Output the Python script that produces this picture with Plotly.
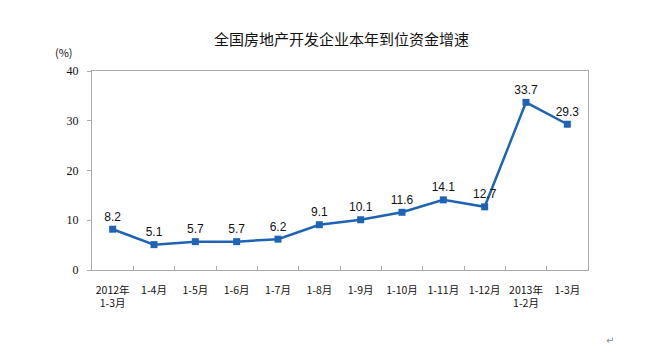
import plotly.graph_objects as go

categories = ["2012年<br>1-3月", "1-4月", "1-5月", "1-6月", "1-7月", "1-8月", "1-9月",
              "1-10月", "1-11月", "1-12月", "2013年<br>1-2月", "1-3月"]
cat_ids = ["c%d" % i for i in range(len(categories))]
values = [8.2, 5.1, 5.7, 5.7, 6.2, 9.1, 10.1, 11.6, 14.1, 12.7, 33.7, 29.3]
y_ticks = [0, 10, 20, 30, 40]

color = "#1F64B4"

fig = go.Figure()
fig.add_trace(go.Scatter(
    x=cat_ids, y=values, mode="lines+markers+text",
    line=dict(color=color, width=2.5),
    marker=dict(symbol="square", size=7, color=color),
    text=["%.1f" % v for v in values],
    textposition="top center",
    textfont=dict(family="Arial, 'Liberation Sans', sans-serif", size=12, color="#111111"),
    cliponaxis=False,
))

fig.update_layout(
    width=663, height=353,
    margin=dict(l=92, r=75, t=71, b=83),
    paper_bgcolor="white", plot_bgcolor="white",
    showlegend=False,
    title=dict(text="全国房地产开发企业本年到位资金增速", x=0.515, xanchor="center",
               y=1 - 40/353, yanchor="middle",
               font=dict(family="'Noto Sans CJK SC', sans-serif", size=15, color="#111111")),
    xaxis=dict(
        type="category", tickmode="array", tickvals=cat_ids, ticktext=categories,
        tickson="boundaries", ticks="inside", ticklen=4, tickcolor="#aaaaaa",
        tickangle=0, ticklabelstandoff=10,
        showline=True, linecolor="#aaaaaa", linewidth=1, mirror=True,
        showgrid=False, range=[-0.5, 11.5],
        tickfont=dict(family="'Noto Sans CJK SC', sans-serif", size=10.5, color="#111111"),
    ),
    yaxis=dict(
        range=[0, 40], tickvals=y_ticks, ticks="outside", ticklen=4, tickcolor="#aaaaaa",
        ticklabelstandoff=6,
        showline=True, linecolor="#aaaaaa", linewidth=1, mirror=True,
        showgrid=False, zeroline=False,
        tickfont=dict(family="'Times New Roman', 'Liberation Serif', serif", size=12, color="#111111"),
    ),
    annotations=[
        dict(text="(%)", xref="paper", yref="paper", x=-0.035, y=1 + 19/199,
             xanchor="right", yanchor="middle", showarrow=False,
             font=dict(family="'Noto Sans CJK SC', sans-serif", size=11, color="#111111")),
        dict(text="↵", xref="paper", yref="paper", x=(610 - 92) / 496, y=-(340 - 270) / 199,
             xanchor="center", yanchor="middle", showarrow=False,
             font=dict(family="'DejaVu Sans', sans-serif", size=10, color="#888888")),
    ],
)

fig.write_html("out.html")
